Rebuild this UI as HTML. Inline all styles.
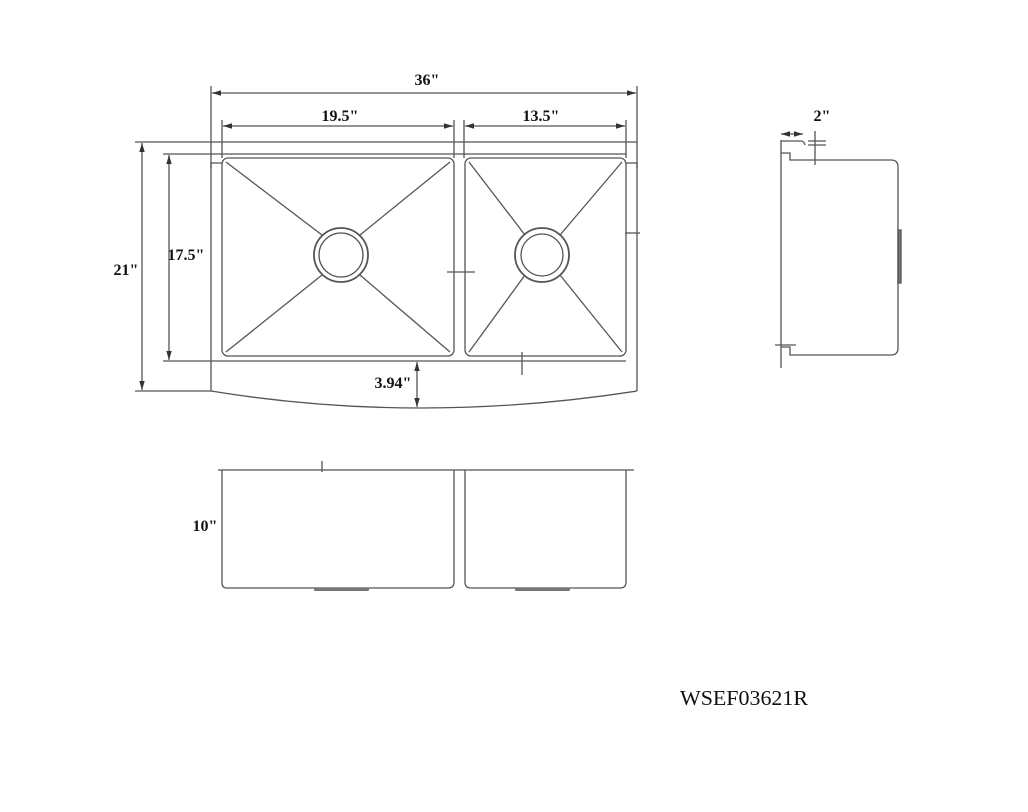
<!DOCTYPE html>
<html><head><meta charset="utf-8"><style>
html,body{margin:0;padding:0;background:#fff;}
svg{display:block}
text{font-family:"Liberation Serif",serif;fill:#111;}
</style></head><body>
<svg width="1028" height="812" viewBox="0 0 1028 812" xmlns="http://www.w3.org/2000/svg">
<defs>
<marker id="a" viewBox="0 0 10 10" refX="10" refY="5" markerWidth="7" markerHeight="7" orient="auto-start-reverse"><path d="M0,2 L10,5 L0,8 z" fill="#333"/></marker>
</defs>
<g stroke="#555" stroke-width="1.3" fill="none">
<!-- extension lines -->
<line x1="211" y1="86" x2="211" y2="142"/>
<line x1="637" y1="86" x2="637" y2="142"/>
<line x1="222" y1="120" x2="222" y2="158"/>
<line x1="454" y1="120" x2="454" y2="158"/>
<line x1="464" y1="120" x2="464" y2="158"/>
<line x1="626" y1="120" x2="626" y2="158"/>
<!-- dims -->
<line x1="212" y1="93" x2="636" y2="93" marker-start="url(#a)" marker-end="url(#a)"/>
<line x1="223" y1="126" x2="453" y2="126" marker-start="url(#a)" marker-end="url(#a)"/>
<line x1="465" y1="126" x2="625" y2="126" marker-start="url(#a)" marker-end="url(#a)"/>
<line x1="142" y1="143" x2="142" y2="390" marker-start="url(#a)" marker-end="url(#a)"/>
<line x1="135" y1="142" x2="211" y2="142"/>
<line x1="135" y1="391" x2="211" y2="391"/>
<line x1="169" y1="155" x2="169" y2="360" marker-start="url(#a)" marker-end="url(#a)"/>
<line x1="163" y1="154" x2="222" y2="154"/>
<line x1="163" y1="361" x2="222" y2="361"/>
<line x1="417" y1="362" x2="417" y2="407" marker-start="url(#a)" marker-end="url(#a)"/>
<!-- outer -->
<line x1="211" y1="142" x2="637" y2="142"/>
<line x1="222" y1="154" x2="626" y2="154"/>
<line x1="211" y1="142" x2="211" y2="391"/>
<line x1="637" y1="142" x2="637" y2="391"/>
<path d="M211,391 Q419,425 637,391"/>
<line x1="222" y1="361" x2="626" y2="361"/>
<path d="M211,168 L211,163 L222,163"/>
<path d="M637,168 L637,163 L626,163"/>
<!-- bowls -->
<rect x="222" y="158" width="232" height="198" rx="6"/>
<rect x="465" y="158" width="161" height="198" rx="6"/>
<line x1="226" y1="162" x2="322" y2="235"/>
<line x1="450" y1="162" x2="360" y2="235"/>
<line x1="226" y1="352" x2="322" y2="275"/>
<line x1="450" y1="352" x2="360" y2="275"/>
<line x1="469" y1="162" x2="525" y2="235"/>
<line x1="622" y1="162" x2="560" y2="235"/>
<line x1="469" y1="352" x2="525" y2="275"/>
<line x1="622" y1="352" x2="560" y2="275"/>
<circle cx="341" cy="255" r="27" stroke-width="1.8"/>
<circle cx="341" cy="255" r="22"/>
<circle cx="542" cy="255" r="27" stroke-width="1.8"/>
<circle cx="542" cy="255" r="21"/>
<line x1="447" y1="272" x2="475" y2="272"/>
<line x1="522" y1="352" x2="522" y2="375"/>
<line x1="625" y1="233" x2="640" y2="233"/>
<!-- side view -->
<line x1="781" y1="140" x2="781" y2="368"/>
<path d="M781,141 L801,141 Q804,141 805,145"/>
<path d="M781,153 L790,153 L790,160 L891,160 Q898,160 898,167 L898,348 Q898,355 891,355 L790,355 L790,347 L781,347"/>
<rect x="898" y="230" width="3" height="53" fill="#777"/>
<line x1="781" y1="134" x2="803" y2="134" marker-start="url(#a)" marker-end="url(#a)"/>
<line x1="815" y1="131" x2="815" y2="165"/>
<line x1="808" y1="141" x2="826" y2="141"/>
<line x1="808" y1="145" x2="826" y2="145"/>
<line x1="775" y1="345" x2="796" y2="345"/>
<!-- front view -->
<line x1="218" y1="470" x2="634" y2="470"/>
<path d="M222,470 L222,583 Q222,588 227,588 L448,588 Q454,588 454,582 L454,470"/>
<path d="M465,470 L465,582 Q465,588 471,588 L620,588 Q626,588 626,582 L626,470"/>
<line x1="322" y1="461" x2="322" y2="472"/>
</g>
<g fill="#777">
<rect x="314" y="588" width="55" height="3" rx="1"/>
<rect x="515" y="588" width="55" height="3" rx="1"/>
</g>
<g font-weight="bold" font-size="16" text-anchor="middle">
<text x="427" y="85">36"</text>
<text x="340" y="121">19.5"</text>
<text x="541" y="121">13.5"</text>
<text x="126" y="275">21"</text>
<text x="186" y="260">17.5"</text>
<text x="393" y="388">3.94"</text>
<text x="822" y="121">2"</text>
<text x="205" y="531">10"</text>
</g>
<text x="680" y="705" font-size="21" textLength="128" lengthAdjust="spacingAndGlyphs">WSEF03621R</text>
</svg>
</body></html>
